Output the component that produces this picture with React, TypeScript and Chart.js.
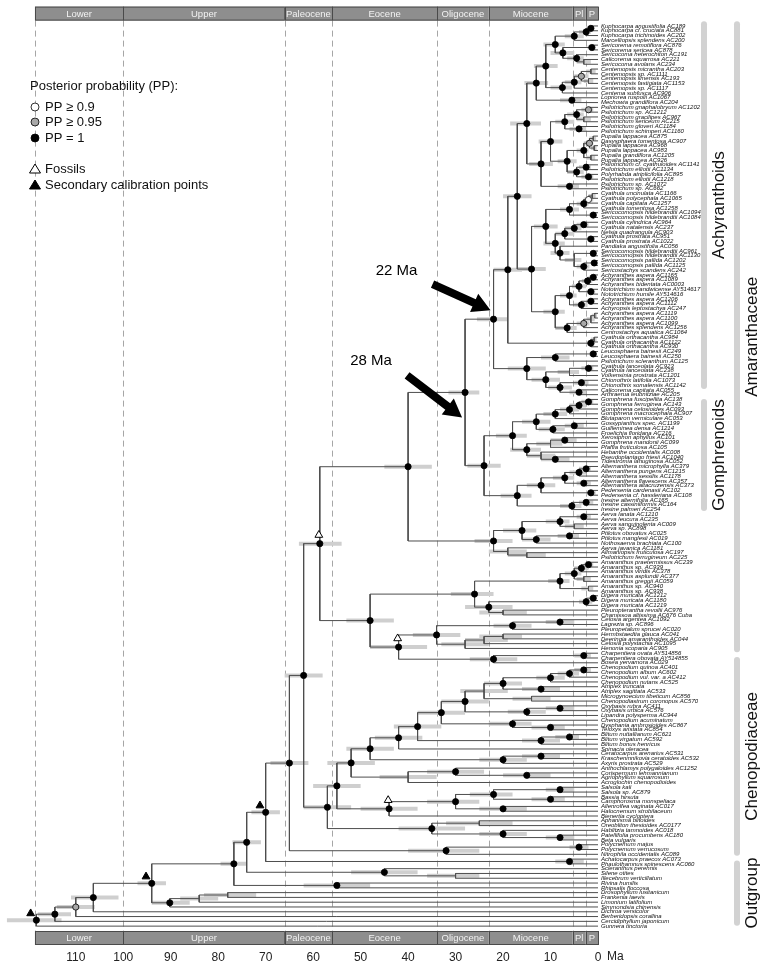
import React, { useEffect, useRef } from 'react';
import { Chart, registerables } from 'chart.js';
Chart.register(...registerables);

const FAMILY = '"Liberation Sans", Arial, Helvetica, sans-serif';

const TAXA = [
  'Kuphocarpa angustifolia AC189','Kuphocarpa cf. cruciata AC881','Kuphocarpa trichinoides AC202','Marcelliopsis splendens AC200',
  'Sericorema remotiflora AC876','Sericorema sericea AC878','Sericocoma heterochiton AC191','Calicorema squarrosa AC221',
  'Sericocoma avolans AC234','Centemopsis micrantha AC203','Centemopsis sp. AC1111','Centemopsis limensis AC193',
  'Centemopsis fastigiata AC1153','Centemopsis sp. AC1117','Centema subfusca AC906','Lopriorea ruspolii AC1067',
  'Mechowia grandiflora AC204','Psilotrichum gnaphalobryum AC1202','Psilotrichum sp. AC1212','Psilotrichum gracilipes AC967',
  'Psilotrichum sericeum AC215','Psilotrichum gloveri AC1184','Psilotrichum schimperi AC1160','Pupalia lappacea AC875',
  'Dasysphaera tomentosa AC907','Pupalia lappacea AC968','Pupalia lappacea AC983','Pupalia grandiflora AC1205',
  'Pupalia lappacea AC926','Psilotrichum cf. cyathuloides AC1141','Psilotrichum elliotii AC1134','Polyrhabda atriplicifolia AC895',
  'Psilotrichum elliotii AC1218','Psilotrichum sp. AC1072','Psilotrichum sp. AC662','Cyathula uncinulata AC1166',
  'Cyathula polycephala AC1065','Cyathula capitata AC1257','Cyathula tomentosa AC1258','Sericocomopsis hildebrandtii AC1094',
  'Sericocomopsis hildebrandtii AC1084','Cyathula cylindrica AC964','Cyathula natalensis AC237','Nelsia quadrangula AC903',
  'Cyathula prostrata AC951','Cyathula prostrata AC1022','Pandiaka angustifolia AC056','Sericocomopsis hildebrandtii AC961',
  'Sericocomopsis hildebrandtii AC1130','Sericocomopsis pallida AC1202','Sericocomopsis pallida AC1125','Sericostachys scandens AC242',
  'Achyranthes aspera AC1165','Achyranthes aspera AC1089','Achyranthes bidentata AC0003','Nototrichium sandwicense AY514617',
  'Nototrichium humile AY514616','Achyranthes aspera AC1206','Achyranthes aspera AC1112','Achyropsis leptostachya AC247',
  'Achyranthes aspera AC1119','Achyranthes aspera AC1100','Achyranthes aspera AC1099','Achyranthes splendens AC1256',
  'Centrostachys aquatica AC1064','Cyathula orthacantha AC984','Cyathula orthacantha AC1122','Cyathula orthacantha AC930',
  'Leucosphaera bainesii AC249','Leucosphaera bainesii AC250','Psilotrichum scleranthum AC125','Cyathula lanceolata AC923',
  'Cyathula lanceolata AC238','Volkensinia prostrata AC1201','Chionothrix latifolia AC1073','Chionothrix somalensis AC1142',
  'Calicorema capitata AC055','Arthraerua leubnitziae AC205','Gomphrena fuscipellita AC138','Gomphrena ferruginea AC143',
  'Gomphrena celosioides AC093','Gomphrena macrocephala AC907','Blutaparon vermiculare AC053','Gossypianthus spec. AC1199',
  'Guilleminea densa AC1214','Froelichia floridana AC216','Xerosiphon aphyllus AC101','Gomphrena mandonii AC099',
  'Pfaffia fruticulosa AC105','Hebanthe occidentalis AC008','Pseudoplantago friesii AC1040','Tidestromia lanuginosa AC052',
  'Alternanthera microphylla AC379','Alternanthera pungens AC1215','Alternanthera sessilis AC1178','Alternanthera flavescens AC357',
  'Alternanthera altacruzensis AC373','Pedersenia cardenasii AC102','Pedersenia cf. hassleriana AC108','Iresine alternifolia AC165',
  'Iresine cassiniiformis AC164','Iresine palmeri AC254','Aerva lanata AC1210','Aerva leucura AC235',
  'Aerva sanguinolenta AC009','Aerva sp. AC898','Ptilotus obovatus AC025','Ptilotus manglesii AC019',
  'Nothosaerva brachiata AC100','Aerva javanica AC1181','Allmaniopsis fruticulosa AC197','Psilotrichum ferrugineum AC225',
  'Amaranthus praetermissus AC239','Amaranthus sp. AC939','Amaranthus viridis AC378','Amaranthus asplundii AC377',
  'Amaranthus greggii AC059','Amaranthus sp. AC940','Amaranthus sp. AC938','Digera muricata AC1212',
  'Digera muricata AC1180','Digera muricata AC1219','Pleuropterantha revoilii AC976','Chamissoa altissima AC676 Cuba',
  'Celosia argentea AC1092','Lagrezia sp. AC896','Pleuropetalum sprucei AC020','Hermbstaedtia glauca AC041',
  'Deeringia amaranthoides AC044','Celosia polystachia AC1095','Henonia scoparia AC905','Charpentiera ovata AY514856',
  'Charpentiera obovata AY514855','Bosea yervamora AC029','Chenopodium quinoa AC401','Chenopodium album AC602',
  'Chenopodium vul. var. a AC412','Chenopodium nutans AC525','Atriplex truncata','Atriplex sagittata AC533',
  'Microgynoecium tibeticum AC856','Chenopodiastrum coronopus AC570','Oxybasis rubra AC411','Oxybasis urbica AC576',
  'Lipandra polysperma AC944','Chenopodium acuminatum','Dysphania ambrosioides AC867','Teloxys aristata AC854',
  'Blitum nuttallianum AC621','Blitum virgatum AC592','Blitum bonus henricus','Spinacia oleracea',
  'Ceratocarpus arenarius AC531','Krascheninnikovia ceratoides AC532','Axyris prostrata AC529','Anthochlamys polygaloides AC1252',
  'Corispermum lehmannianum','Agriophyllum squarrosum','Acroglochin chenopodioides','Salsola kali',
  'Salsola sp. AC879','Bassia hirsuta','Camphorosma monspeliaca','Allenrolfea vaginata AC017',
  'Halocnemum strobilaceum','Bienertia cycloptera','Aphanisma blitoides','Oreobliton thesioides AC0177',
  'Hablitzia tamnoides AC018','Patellifolia procumbens AC180','Beta vulgaris','Polycnemum majus',
  'Polycnemum verrucosum','Nitrophila occidentalis AC089','Achatocarpus praecox AC073','Phaulothamnus spinescens AC060',
  'Scleranthus perennis','Silene otites','Illecebrum verticillatum','Rivina humilis',
  'Rhipsalis floccosa','Drosophyllum lusitanicum','Frankenia laevis','Limonium latifolium',
  'Simmondsia chinensis','Dichroa versicolor','Berberidopsis corallina','Cercidiphyllum japonicum',
  'Gunnera tinctoria',
];

// Tree: tips are 1-based indices into TAXA; internal node "(a,b)age[hpdLo-hpdHi]flags{tag}"
// flags: b = PP 1, g = PP>=0.95, w = PP>=0.9, T = secondary calibration, F = fossil
const A1_X = '(((1,2)1.5[0.8-2.5]b,3)2.5[1.5-4]b,4)5[3-7]b';
const A1_Y = '((5,6)1.3[0.5-2.2]b,(7,(8,9)3[1.5-4.5])4.5[3-6.5]b)7.4[5-10]b';
const A1_W = '((((10,11)1.5[0.5-2.5],(12,13)2[1-3])3.5[2-5]g,14)5[3.5-7]b,15)7.5[5.5-10]b';
const A2_P1 = '(((18,19)2[1-3.5]g,(20,21)3[1.5-4.5])4.5[3-6.5]b,(22,23)4[2.5-6]b)7[5-9]b';
const A2_P2 = '((((24,25)1[0.4-1.8],(26,27)0.8[0.3-1.5])1.8[1-3]g,(28,29)1.5[0.6-2.5])3[2-4.5]b,((30,31)2.5[1.5-4]b,(32,33)2[1-3.5]b)4.5[3-6.5]b)6.5[4.5-8.5]b';
const A3_Q1 = '((((36,37)1.2[0.5-2],38)2[1-3]w,39)3[2-4.5]b,(40,41)1[0.3-1.8]b)6[4-8]b';
const A3_Q2 = '((((42,43)3[2-4.5]b,44)5[3.5-7]b,(45,46)1.5[0.7-2.5]b)7[5-9]b,(47,((48,49)1[0.4-1.6]b,((50,51)0.8[0.3-1.4]b,52)3[1.8-4.5]b)5[3.5-7])8[6-10]b)9[7-11.5]b';
const A4_R1 = '((((53,54)1[0.4-1.8]b,55)2.2[1.2-3.4]b,(56,57)1.5[0.6-2.5]b)4[2.5-5.5]b,((58,59)1.5[0.7-2.4]b,60)3.5[2.2-5]b)6[4.5-8]b';
const A4_R2 = '((((61,62)0.7[0.2-1.3],63)1.5[0.7-2.4],64)3[1.8-4.5]g,65)6.5[4.5-9]b';
const A5 = '((66,67)0.8[0.3-1.5],68)1.5[0.7-2.5]b';
const A6 = '(((69,70)1[0.3-1.8]b,71)9[6-12]b,(((72,73)2[1-3.5]b,74)6[4-8.5],((75,76)3.5[2-5]b,(77,78)4[2.5-6]b)8[5.5-10.5]b)11[8-14]b)15[11-19]b';
const G1A = '(((((79,80)2[1-3.5]b,81)4[2.5-6]b,82)6[4-8]b,83)9[6.5-11.5]b,((84,85)5[3-7]b,86)9.5[7-12.5]b)13[10-16]b';
const G1B = '(((87,88)7[4.5-10]b,89)10[7.5-13],(90,(91,92)9[6-12]b)12[9-15])15[12-18.5]b';
const G2 = '(((((93,94)2.5[1.5-4]b,95)4[2.5-6]b,(96,97)3[1.5-4.5]b)7[5-9.5]b,(98,99)1.5[0.5-2.5]b)12[9-15]b,((100,101)2.5[1-4]b,102)5.5[3.5-8]b)17[14-20.5]b';
const AERV = '((((103,104)3[1.5-4.5]b,(105,106)5[3-7])8[6-11]b,((107,108)6[4-8.5]b,109)13[10-16]b)16[13-20]b,(110,(111,112)15[11-19])19[15-23])22[18-26]b';
const AMARG = '(((((113,114)2[1-3]b,115)3.5[2-5]b,(116,117)3[1.5-4.5])5[3.5-7]b,(118,119)2[1-3.5])8[6-10.5]b,(((120,121)1[0.4-1.8]b,122)2.5[1.2-4]b,(123,124)20[15-25])23[18-28]b)26[22-31]b';
const CEL = '(((125,126)8[5-11]b,127)18[14-22]b,(((128,129)20[16-25],130)24[19-28],131)28[23-33])34[29-39]b';
const BOS = '((132,133)3[1.5-5]b,134)22[17-27]b';
const C1 = '(((135,136)3[1.5-5]b,137)6[4-8.5]b,138)10[7-13]b';
const C2 = '(139,140)12[8-16]b';
const C3 = '(141,142)14[10-18]';
const C4 = '((143,144)8[5-11]b,145)15[11-19]b';
const C5 = '(146,(147,148)10[7-14]b)18[14-23]b';
const C6 = '((149,150)6[4-9]b,151)12[8-16]b';
const C7 = '((153,154)12[8-16]b,155)20[15-25]b';
const CORI = '((156,(157,158)15[10-20]b)30[24-36]b,159)40[34-46]';
const SALS = '((((160,161)8[5-11]b,(162,163)10[7-14]b)22[18-27]b,(164,165)20[15-25]b)30[25-36]b,166)44[38-50]bF';
const BETO = '((167,168)25[18-32],(169,(170,171)8[5-11]b)20[15-25]b)35[28-42]b';
const POLY = '((172,173)4[2-6]b,174)32[25-40]b';

const A1 = `(((${A1_X},${A1_Y})9[7-11.5]b,${A1_W})11[8.5-13.5]b,(16,17)5.5[3.5-8]b)13[10.5-15.5]b`;
const A2 = `((${A2_P1},${A2_P2})10[7.5-12.5]b,(34,35)6[4-8.5]b)12[9.5-14.5]b`;
const A3 = `(${A3_Q1},${A3_Q2})11[8.5-13.5]b`;
const A4 = `(${A4_R1},${A4_R2})9[7-11.5]b`;
const ACHY = `((((${A1},${A2})15[12-18.5]b,(${A3},${A4})14[11-17]b)17[14-20]b,${A5})19[16-22]b,${A6})22[19-25.5]b{achy}`;
const GOMPH = `((${G1A},${G1B})18[15-21.5]b,${G2})24[20.5-27.5]b`;
const UPPER = `((${ACHY},${GOMPH})28[25-31.5]b{stem},${AERV})40[35-45]b`;
const LOWER = `(${AMARG},(${CEL},${BOS})42[36-48]bF)48[43-53]b`;
const AMAR = `(${UPPER},${LOWER})58.6[54-63]bF`;
const CHENOPOD = `((((((${C1},${C2})20[16-24]b,${C3})24[19-29],${C4})28[23-33]b,${C5})33[28-38]b,${C6})38[33-43]b,152)42[37-47]b`;
const CHENO = `((((${CHENOPOD},${C7})48[43-53]b,${CORI})52[47-57]b,${SALS})55[50-60]b,${BETO})57[52-62]b`;
const KCL = `((${AMAR},${CHENO})62[58-66]b,${POLY})65[61-69]b`;
const JCL = `(${KCL},(175,176)6[3-9]b)70[67-73]bT`;
const ICL = `(${JCL},(177,(178,179)30[25-36])45[38-52]b)74[71-77]b`;
const ECL = `(${ICL},(180,181)55[48-62]b)76.7[74-79.5]b`;
const FCL = '(((182,183)78[72-83],184)84[80-88],185)90.2[86-94]b';
const DCL = `(${ECL},${FCL})94[91-97]bT`;
const TREE = `((((${DCL},186)106.3[101-111]b,187)110[106-114]g,188)114.4[111-118]b,189)118.3[113-124.5]bT`;

const AGE_TICKS = [110, 100, 90, 80, 70, 60, 50, 40, 30, 20, 10, 0];
const STAGES = ['Lower', 'Upper', 'Paleocene', 'Eocene', 'Oligocene', 'Miocene', 'Pl', 'P'];
const STAGE_BOUNDS = [118.6, 100, 66, 56, 33.9, 23, 5.33, 2.58, 0];
// clade brackets, in tip-row units
const INNER_CLADES = [
  { name: 'Achyranthoids', from: 0, to: 76.8 },
  { name: 'Gomphrenoids', from: 78.9, to: 102.3 },
];
const OUTER_CLADES = [
  { name: 'Amaranthaceae', from: 0, to: 131.8 },
  { name: 'Chenopodiaceae', from: 132.8, to: 174.3 },
  { name: 'Outgroup', from: 175.3, to: 188.9 },
];
const LEGEND_TITLE = 'Posterior probability (PP):';
const PP_LABELS = ['PP \u2265 0.9', 'PP \u2265 0.95', 'PP = 1'];
const CAL_LABELS = ['Fossils', 'Secondary calibration points'];
const ARROWS = [
  { label: '22 Ma', tag: 'achy', tipDy: -9, vec: [-58, -26], text: [-36, -13] },
  { label: '28 Ma', tag: 'stem', tipDy: 25, vec: [-55, -42], text: [-36, -15] },
];

type TNode = { tip?: number; ch?: TNode[]; age: number; lo?: number; hi?: number; flags: string; tag?: string; y: number };

function parseTree(src: string): TNode {
  const s = src.replace(/\s+/g, '');
  let i = 0;
  const re = /^([0-9.]+)(?:\[([0-9.]+)-([0-9.]+)\])?([bgwTF]*)(?:\{(\w+)\})?/;
  function node(): TNode {
    if (s[i] === '(') {
      i++;
      const ch: TNode[] = [node()];
      while (s[i] === ',') { i++; ch.push(node()); }
      i++;
      const m = re.exec(s.slice(i));
      if (!m) throw new Error('parse error at ' + i);
      i += m[0].length;
      const y = (ch[0].y + ch[ch.length - 1].y) / 2;
      return { ch, age: +m[1], lo: m[2] ? +m[2] : undefined, hi: m[3] ? +m[3] : undefined, flags: m[4] || '', tag: m[5], y };
    }
    const m = /^\d+/.exec(s.slice(i));
    if (!m) throw new Error('tip parse error at ' + i);
    i += m[0].length;
    return { tip: +m[0], age: 0, flags: '', y: +m[0] };
  }
  return node();
}

const Y_MIN = -3.044;
const Y_MAX = 192.94;

export default function App() {
  const ref = useRef<HTMLCanvasElement | null>(null);
  useEffect(() => {
    const root = parseTree(TREE);
    const branch: any[] = [];
    const hpd: any[] = [];
    const dots: any[] = [];
    const dotCols: string[] = [];
    const secs: any[] = [];
    const foss: any[] = [];
    const tagged: Record<string, TNode> = {};
    const gap = { x: null, y: null };
    const walk = (n: TNode) => {
      if (!n.ch) return;
      if (n.tag) tagged[n.tag] = n;
      branch.push({ x: n.age, y: n.ch[0].y }, { x: n.age, y: n.ch[n.ch.length - 1].y }, gap);
      for (const c of n.ch) {
        branch.push({ x: n.age, y: c.y }, { x: c.age, y: c.y }, gap);
        walk(c);
      }
      if (n.lo !== undefined && n.hi !== undefined) hpd.push({ x: n.hi, y: n.y }, { x: n.lo, y: n.y }, gap);
      if (n.flags.includes('b')) { dots.push({ x: n.age, y: n.y }); dotCols.push('#000000'); }
      else if (n.flags.includes('g')) { dots.push({ x: n.age, y: n.y }); dotCols.push('#a8a8a8'); }
      else if (n.flags.includes('w')) { dots.push({ x: n.age, y: n.y }); dotCols.push('#ffffff'); }
      if (n.flags.includes('T')) secs.push({ x: n.age + 1.2, y: n.y - 1.4 });
      if (n.flags.includes('F')) foss.push({ x: n.age + 0.2, y: n.y - 1.8 });
    };
    walk(root);

    const decor = {
      id: 'decor',
      beforeDatasetsDraw(chart: any) {
        const { ctx, chartArea, scales } = chart;
        const xs = scales.x;
        ctx.save();
        ctx.strokeStyle = '#a6a6a6';
        ctx.lineWidth = 1;
        ctx.setLineDash([6, 4]);
        for (const b of STAGE_BOUNDS.slice(0, -1)) {
          const px = Math.round(xs.getPixelForValue(b)) + 0.5;
          ctx.beginPath();
          ctx.moveTo(px, chartArea.top + 14);
          ctx.lineTo(px, chartArea.bottom - 14);
          ctx.stroke();
        }
        ctx.restore();
      },
      afterDraw(chart: any) {
        const { ctx, chartArea, scales } = chart;
        const xs = scales.x;
        const ys = scales.y;
        ctx.save();
        const bandRows = [chartArea.top, chartArea.bottom - 14];
        for (const top of bandRows) {
          for (let k = 0; k < STAGES.length; k++) {
            const x0 = xs.getPixelForValue(STAGE_BOUNDS[k]);
            const x1 = xs.getPixelForValue(STAGE_BOUNDS[k + 1]);
            ctx.fillStyle = '#8e8e8e';
            ctx.fillRect(x0, top, x1 - x0, 14);
            ctx.strokeStyle = '#4a4a4a';
            ctx.lineWidth = 1;
            ctx.strokeRect(Math.round(x0) + 0.5, top + 0.5, Math.round(x1 - x0), 13);
            ctx.fillStyle = '#f2f2f2';
            ctx.font = `9.5px ${FAMILY}`;
            ctx.textAlign = 'center';
            ctx.textBaseline = 'middle';
            ctx.fillText(STAGES[k], (x0 + x1) / 2, top + 7.5);
          }
        }
        ctx.fillStyle = '#222';
        ctx.font = `12px ${FAMILY}`;
        ctx.textAlign = 'left';
        ctx.textBaseline = 'middle';
        ctx.fillText('Ma', xs.getPixelForValue(0) + 9, 957);

        ctx.font = `13px ${FAMILY}`;
        ctx.fillStyle = '#111';
        ctx.fillText(LEGEND_TITLE, 30, 86);
        const ppCols = ['#ffffff', '#a8a8a8', '#000000'];
        const ppY = [107, 122, 138];
        PP_LABELS.forEach((lab, k) => {
          ctx.beginPath();
          ctx.arc(35, ppY[k], 4, 0, Math.PI * 2);
          ctx.fillStyle = ppCols[k];
          ctx.fill();
          ctx.strokeStyle = '#000';
          ctx.lineWidth = 0.8;
          ctx.stroke();
          ctx.fillStyle = '#111';
          ctx.fillText(lab, 45, ppY[k]);
        });
        const calY = [169, 185];
        CAL_LABELS.forEach((lab, k) => {
          const cy = calY[k];
          ctx.beginPath();
          ctx.moveTo(35, cy - 5);
          ctx.lineTo(40.5, cy + 4);
          ctx.lineTo(29.5, cy + 4);
          ctx.closePath();
          ctx.fillStyle = k === 0 ? '#fff' : '#000';
          ctx.fill();
          ctx.strokeStyle = '#000';
          ctx.lineWidth = 1;
          ctx.stroke();
          ctx.fillStyle = '#111';
          ctx.fillText(lab, 45, cy);
        });

        const drawClade = (c: any, barX: number, textX: number) => {
          const y0 = ys.getPixelForValue(c.from);
          const y1 = ys.getPixelForValue(c.to);
          ctx.strokeStyle = '#d2d2d2';
          ctx.lineWidth = 6;
          ctx.lineCap = 'round';
          ctx.beginPath();
          ctx.moveTo(barX, y0 + 3);
          ctx.lineTo(barX, y1 - 3);
          ctx.stroke();
          ctx.save();
          ctx.translate(textX, (y0 + y1) / 2);
          ctx.rotate(-Math.PI / 2);
          ctx.fillStyle = '#111';
          ctx.font = `17px ${FAMILY}`;
          ctx.textAlign = 'center';
          ctx.textBaseline = 'middle';
          ctx.fillText(c.name, 0, 0);
          ctx.restore();
        };
        INNER_CLADES.forEach((c) => drawClade(c, 704, 719));
        OUTER_CLADES.forEach((c) => drawClade(c, 737, 752));

        ARROWS.forEach((a) => {
          const n = tagged[a.tag];
          if (!n) return;
          const tx = xs.getPixelForValue(n.age) - 3;
          const ty = ys.getPixelForValue(n.y) + a.tipDy;
          const bx = tx + a.vec[0];
          const by = ty + a.vec[1];
          const len = Math.hypot(a.vec[0], a.vec[1]);
          const ux = -a.vec[0] / len, uy = -a.vec[1] / len;
          const px = -uy, py = ux;
          const headL = 18, headW = 10, shaftW = 4;
          const hx = tx - ux * headL, hy = ty - uy * headL;
          ctx.beginPath();
          ctx.moveTo(bx + px * shaftW, by + py * shaftW);
          ctx.lineTo(hx + px * shaftW, hy + py * shaftW);
          ctx.lineTo(hx + px * headW, hy + py * headW);
          ctx.lineTo(tx, ty);
          ctx.lineTo(hx - px * headW, hy - py * headW);
          ctx.lineTo(hx - px * shaftW, hy - py * shaftW);
          ctx.lineTo(bx - px * shaftW, by - py * shaftW);
          ctx.closePath();
          ctx.fillStyle = '#000';
          ctx.fill();
          ctx.font = `15px ${FAMILY}`;
          ctx.textAlign = 'center';
          ctx.textBaseline = 'middle';
          ctx.fillText(a.label, bx + a.text[0], by + a.text[1]);
        });
        ctx.restore();
      },
    };

    const chart = new Chart(ref.current as HTMLCanvasElement, {
      type: 'scatter',
      data: {
        datasets: [
          { label: 'hpd', data: hpd, showLine: true, spanGaps: false, borderColor: '#cfcfcf', borderWidth: 4, borderCapStyle: 'butt', pointRadius: 0, order: 4 } as any,
          { label: 'branches', data: branch, showLine: true, spanGaps: false, borderColor: '#4d4d4d', borderWidth: 1, pointRadius: 0, order: 3 } as any,
          { label: 'pp', data: dots, showLine: false, pointRadius: 3.1, pointBackgroundColor: dotCols, pointBorderColor: '#000', pointBorderWidth: 0.8, order: 2 } as any,
          { label: 'secondary', data: secs, showLine: false, pointStyle: 'triangle', pointRadius: 4.5, pointBackgroundColor: '#000', pointBorderColor: '#000', order: 1 } as any,
          { label: 'fossil', data: foss, showLine: false, pointStyle: 'triangle', pointRadius: 4.5, pointBackgroundColor: '#fff', pointBorderColor: '#000', pointBorderWidth: 1, order: 1 } as any,
        ],
      },
      options: {
        animation: false,
        responsive: false,
        maintainAspectRatio: false,
        events: [],
        layout: { padding: 0 },
        plugins: { legend: { display: false }, tooltip: { enabled: false } },
        scales: {
          x: {
            type: 'linear', reverse: true, min: 0, max: 124.8, position: 'bottom',
            grid: { display: false, drawTicks: false }, border: { display: false },
            ticks: {
              stepSize: 10, autoSkip: false, maxRotation: 0, padding: 5, color: '#222',
              font: { size: 12, family: FAMILY },
              callback: (v: any) => (AGE_TICKS.includes(+v) ? String(v) : ''),
            },
            afterFit: (s: any) => { s.height = 22; },
          },
          y: {
            type: 'linear', reverse: true, min: Y_MIN, max: Y_MAX, position: 'right',
            grid: { display: false, drawTicks: false }, border: { display: false },
            ticks: {
              stepSize: 1, autoSkip: false, padding: 3, color: '#111',
              font: { size: 6, style: 'italic', family: FAMILY },
              callback: (v: any) => {
                const k = Math.round(+v);
                return Math.abs(+v - k) < 1e-6 && k >= 1 && k <= TAXA.length ? TAXA[k - 1] : '';
              },
            },
            afterFit: (s: any) => { s.width = 164; },
          },
        },
      } as any,
      plugins: [decor],
    });
    return () => chart.destroy();
  }, []);
  return (
    <div style={{ position: 'absolute', left: 0, top: 0, width: 762, height: 967 }}>
      <canvas ref={ref} width={762} height={967} style={{ display: 'block', width: 762, height: 967 }} />
    </div>
  );
}
